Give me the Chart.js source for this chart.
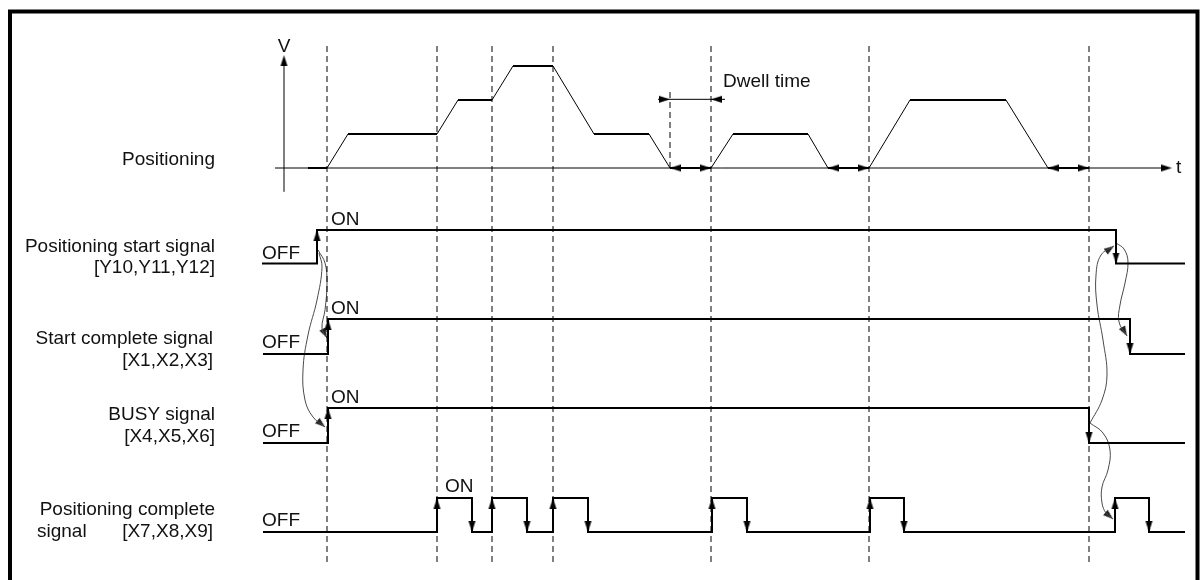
<!DOCTYPE html>
<html>
<head>
<meta charset="utf-8">
<script src="https://cdn.jsdelivr.net/npm/chart.js@4.4.0/dist/chart.umd.min.js"></script>
<style>
  html, body { margin: 0; padding: 0; background: #fff; }
</style>
</head>
<body>
<canvas id="myChart" width="1200" height="580"></canvas>
<script>
var ctx = document.getElementById("myChart").getContext("2d");

// dashed guide lines (time of each event)
var guideTimes = [327, 437, 492, 553, 711, 869, 1089];
var dwellGuideTime = 670;

// positioning speed profile (speed level 0..3)
var speedTimes  = [308, 327, 348, 437, 458, 492, 513, 553, 594, 649, 670, 711, 733, 808, 828, 869, 910, 1006, 1048, 1089];
var speedLevels = [0,   0,   1,   1,   2,   2,   3,   3,   1,   1,   0,   0,   1,   1,   0,   0,   2,   2,    0,    0];

// dwell intervals shown with double arrows
var dwellStarts = [670, 828, 1048];
var dwellEnds   = [711, 869, 1089];

// signals : time of change, state after the change
var startSigTimes   = [262, 317, 1116, 1185];
var startSigStates  = [0, 1, 0, 0];
var startCompTimes  = [263, 328, 1130, 1185];
var startCompStates = [0, 1, 0, 0];
var busyTimes       = [263, 328, 1089, 1185];
var busyStates      = [0, 1, 0, 0];
var posCompTimes    = [263, 437, 472, 492, 527, 553, 588, 712, 747, 870, 904, 1115, 1149, 1185];
var posCompStates   = [0, 1, 0, 1, 0, 1, 0, 1, 0, 1, 0, 1, 0, 0];

// curved "causes" arrows between signals
var curveA = [[318, 250], [325, 263], [327, 283], [325, 310], [322, 328], [327, 338]];
var curveB = [[319, 253], [322, 267], [317, 300], [308, 335], [303, 370], [305, 400], [313, 417], [325, 427]];
var curveC = [[1090, 423], [1102, 400], [1107, 375], [1103, 340], [1097, 305], [1096, 275], [1101, 255], [1114, 246]];
var curveD = [[1116, 243], [1124, 249], [1128, 262], [1125, 283], [1120, 305], [1119, 322], [1127, 336]];
var curveE = [[1090, 423], [1103, 433], [1110, 450], [1108, 470], [1102, 487], [1102, 503], [1106, 513], [1113, 519]];

// texts
var rowNames = [
  ["Positioning"],
  ["Positioning start signal", "[Y10,Y11,Y12]"],
  ["Start complete signal", "[X1,X2,X3]"],
  ["BUSY signal", "[X4,X5,X6]"],
  ["Positioning complete", "[X7,X8,X9]"]
];

// hidden axis so that 0 -> offPx and 1 -> onPx
function levelAxis(offPx, onPx) {
  var range = 580 / (offPx - onPx);
  var max = offPx / (offPx - onPx);
  return { type: 'linear', axis: 'y', display: false, min: max - range, max: max };
}

function arrowHead(len, half, color) {
  var c = document.createElement('canvas');
  c.width = Math.ceil(half * 2) + 2;
  c.height = len * 2;
  var g = c.getContext('2d');
  var cx = c.width / 2;
  g.fillStyle = color;
  g.beginPath();
  g.moveTo(cx, len);
  g.lineTo(cx + half, 2 * len);
  g.lineTo(cx - half, 2 * len);
  g.closePath();
  g.fill();
  return c;
}
var arrowImg = arrowHead(11, 3.5, '#000');
var smallArrowImg = arrowHead(10, 3.5, '#222');

function pts(times, values) {
  return times.map(function (t, i) { return { x: t, y: values[i] }; });
}

function edgeArrows(times, states) {
  var out = [], rot = [];
  for (var i = 1; i < times.length; i++) {
    if (states[i] !== states[i - 1]) {
      out.push({ x: times[i], y: states[i] });
      rot.push(states[i] ? 0 : 180);
    }
  }
  return { data: out, rot: rot };
}

function curveSet(c) {
  return {
    yAxisID: 'px', showLine: true, data: c.map(function (p) { return { x: p[0], y: p[1] }; }),
    borderColor: '#4a4a4a', borderWidth: 1, tension: 0.4, pointRadius: 0, clip: false
  };
}
function curveTip(c) {
  var a = c[c.length - 2], b = c[c.length - 1];
  return { x: b[0], y: b[1], rot: Math.atan2(b[0] - a[0], -(b[1] - a[1])) * 180 / Math.PI };
}

var guidePts = [];
guideTimes.forEach(function (t) {
  guidePts.push({ x: t, y: 46 }, { x: t, y: 563 }, { x: t, y: null });
});
guidePts.push({ x: dwellGuideTime, y: 92 }, { x: dwellGuideTime, y: 168 });

var datasets = [];

// frame
datasets.push({ yAxisID: 'px', showLine: true, clip: false, pointRadius: 0, borderColor: '#000', borderWidth: 4,
  data: [{ x: 10, y: 620 }, { x: 10, y: 11.5 }, { x: 1197.5, y: 11.5 }, { x: 1197.5, y: 620 }] });

// guides
datasets.push({ yAxisID: 'px', showLine: true, spanGaps: false, pointRadius: 0, borderColor: '#000', borderWidth: 1,
  borderDash: [6, 4], data: guidePts });

// velocity axes (thin)
datasets.push({ yAxisID: 'yv', showLine: true, spanGaps: false, pointRadius: 0, borderColor: '#000', borderWidth: 1,
  data: [{ x: 275, y: 0 }, { x: 1168, y: 0 }, { x: 284, y: null }, { x: 284, y: -0.7 }, { x: 284, y: 3.2 }] });

// dwell time dimension line
datasets.push({ yAxisID: 'yv', showLine: true, pointRadius: 0, borderColor: '#000', borderWidth: 1,
  data: [{ x: 658, y: 2.02 }, { x: 725, y: 2.02 }] });

// speed profile
datasets.push({ yAxisID: 'yv', showLine: true, pointRadius: 0, borderColor: '#000', borderWidth: 2,
  data: pts(speedTimes, speedLevels),
  segment: { borderWidth: function (c) { return c.p0.parsed.y === c.p1.parsed.y ? 2 : 1; } } });

// arrowheads on the speed chart
var vArrows = [{ x: 284, y: 3.32 }, { x: 1172, y: 0 }, { x: 670, y: 2.02 }, { x: 711, y: 2.02 }];
var vRot = [0, 90, 90, 270];
dwellStarts.forEach(function (t, i) {
  vArrows.push({ x: t, y: 0 }, { x: dwellEnds[i], y: 0 });
  vRot.push(270, 90);
});
datasets.push({ yAxisID: 'yv', showLine: false, data: vArrows, pointStyle: arrowImg, pointRotation: vRot, pointRadius: 3, clip: false });

// signals
var sigs = [
  ['s1', startSigTimes, startSigStates],
  ['s2', startCompTimes, startCompStates],
  ['s3', busyTimes, busyStates],
  ['s4', posCompTimes, posCompStates]
];
sigs.forEach(function (s) {
  datasets.push({ yAxisID: s[0], showLine: true, stepped: true, pointRadius: 0, borderColor: '#000', borderWidth: 2,
    borderJoinStyle: 'miter', data: pts(s[1], s[2]) });
  var e = edgeArrows(s[1], s[2]);
  datasets.push({ yAxisID: s[0], showLine: false, data: e.data, pointStyle: arrowImg, pointRotation: e.rot, pointRadius: 3, clip: false });
});

// curves
var curves = [curveA, curveB, curveC, curveD, curveE];
var tips = [], tipRot = [];
curves.forEach(function (c) {
  datasets.push(curveSet(c));
  var t = curveTip(c);
  tips.push({ x: t.x, y: t.y });
  tipRot.push(t.rot);
});
datasets.push({ yAxisID: 'px', showLine: false, data: tips, pointStyle: smallArrowImg, pointRotation: tipRot, pointRadius: 3, clip: false });

// text placed in diagram units
var textItems = [
  { t: rowNames[0][0], x: 215, y: 165, a: 'right' },
  { t: rowNames[1][0], x: 215, y: 252, a: 'right' },
  { t: rowNames[1][1], x: 215, y: 273, a: 'right' },
  { t: rowNames[2][0], x: 213, y: 344, a: 'right' },
  { t: rowNames[2][1], x: 213, y: 366, a: 'right' },
  { t: rowNames[3][0], x: 215, y: 420, a: 'right' },
  { t: rowNames[3][1], x: 215, y: 442, a: 'right' },
  { t: rowNames[4][0], x: 215, y: 515, a: 'right' },
  { t: "signal", x: 37, y: 537, a: 'left' },
  { t: rowNames[4][1], x: 213, y: 537, a: 'right' },
  { t: "OFF", x: 262, y: 259, a: 'left' },
  { t: "ON", x: 331, y: 225, a: 'left' },
  { t: "OFF", x: 262, y: 348, a: 'left' },
  { t: "ON", x: 331, y: 314, a: 'left' },
  { t: "OFF", x: 262, y: 437, a: 'left' },
  { t: "ON", x: 331, y: 403, a: 'left' },
  { t: "OFF", x: 262, y: 526, a: 'left' },
  { t: "ON", x: 445, y: 492, a: 'left' },
  { t: "V", x: 284, y: 52, a: 'center' },
  { t: "t", x: 1176, y: 173, a: 'left' },
  { t: "Dwell time", x: 723, y: 87, a: 'left' }
];

var textPlugin = {
  id: 'diagramText',
  afterDatasetsDraw: function (chart) {
    var c = chart.ctx, sx = chart.scales.x, sy = chart.scales.px;
    c.save();
    c.fillStyle = '#111';
    c.font = '19px "Liberation Sans", Arial, sans-serif';
    c.textBaseline = 'alphabetic';
    textItems.forEach(function (it) {
      c.textAlign = it.a;
      c.fillText(it.t, sx.getPixelForValue(it.x), sy.getPixelForValue(it.y));
    });
    c.restore();
  }
};

var myChart = new Chart(ctx, {
  type: 'scatter',
  data: { datasets: datasets },
  options: {
    responsive: false,
    animation: false,
    events: [],
    layout: { padding: 0, autoPadding: false },
    plugins: { legend: { display: false }, tooltip: { enabled: false } },
    scales: {
      x: { type: 'linear', axis: 'x', display: false, min: 0, max: 1200 },
      px: { type: 'linear', axis: 'y', display: false, min: 0, max: 580, reverse: true },
      yv: levelAxis(168, 134),
      s1: levelAxis(263.5, 230),
      s2: levelAxis(354, 319),
      s3: levelAxis(443, 408),
      s4: levelAxis(532, 498)
    }
  },
  plugins: [textPlugin]
});
</script>
</body>
</html>
